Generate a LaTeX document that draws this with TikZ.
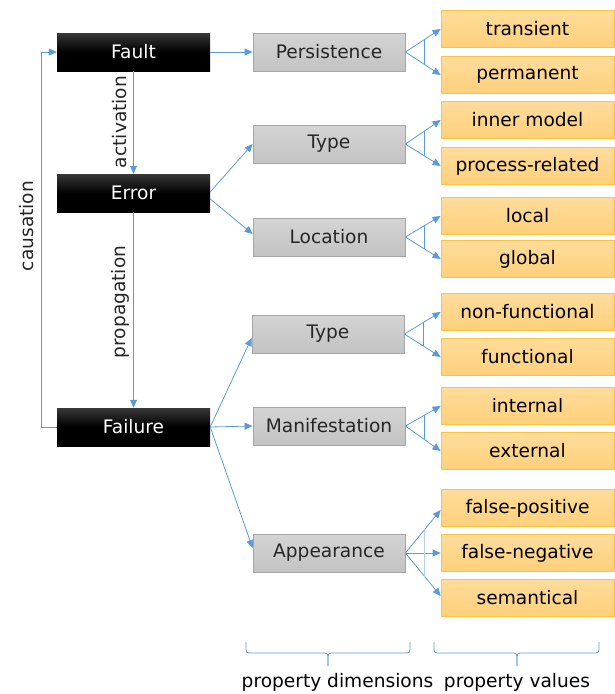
\documentclass[tikz,border=0pt]{standalone}
\usepackage{fontspec}
\setmainfont{DejaVu Sans}
\usetikzlibrary{arrows.meta,calc}

\definecolor{linkblue}{HTML}{5B9BD5}
\definecolor{grayfillA}{HTML}{D4D4D4}
\definecolor{grayfillB}{HTML}{C3C3C3}
\definecolor{grayline}{HTML}{A6A6A6}
\definecolor{orangeA}{HTML}{FFDC9C}
\definecolor{orangeB}{HTML}{FED07A}
\definecolor{orangeline}{HTML}{FCC43C}
\definecolor{darktext}{HTML}{262626}

\tikzset{
  every node/.style={font=\fontsize{18.6}{21}\selectfont, inner sep=0pt},
  chainbox/.style={minimum width=153pt, minimum height=38pt,
    top color=black!78, bottom color=black, middle color=black, text=white},
  dimbox/.style={minimum width=152pt, minimum height=38pt,
    top color=grayfillA, bottom color=grayfillB, draw=grayline, line width=0.8pt,
    text=darktext},
  valbox/.style={minimum width=173pt, minimum height=37pt,
    top color=orangeA, bottom color=orangeB, draw=orangeline, line width=0.8pt,
    text=black},
  conn/.style={draw=linkblue, line width=0.8pt,
    -{Triangle[length=8pt,width=7pt]}},
  splitbar/.style={draw=linkblue, line width=0.8pt},
  bracebar/.style={draw=linkblue, line width=0.8pt, rounded corners=3pt},
  vlabel/.style={rotate=90, text=darktext},
}

\begin{document}
\begin{tikzpicture}[x=1pt, y=-1pt]
\useasboundingbox (0,0) rectangle (615,694);

% fault - error - failure chain
\node[chainbox] (fault)   at (133.5,52)  {Fault};
\node[chainbox] (error)   at (133.5,193) {Error};
\node[chainbox] (failure) at (133.5,427) {Failure};

% property dimensions
\node[dimbox] (persist) at (329,52)  {Persistence};
\node[dimbox] (etype)   at (329,144) {Type};
\node[dimbox] (eloc)    at (329,237) {Location};
\node[dimbox] (ftype)   at (328,334) {Type};
\node[dimbox] (fmanif)  at (329,426) {Manifestation};
\node[dimbox] (fappear) at (329,553) {Appearance};

% property values
\node[valbox] (transient) at (527.5,29)  {transient};
\node[valbox] (permanent) at (527.5,75)  {permanent};
\node[valbox] (inner)     at (527.5,120) {inner model};
\node[valbox] (process)   at (527.5,166) {process-related};
\node[valbox] (local)     at (527.5,216) {local};
\node[valbox] (global)    at (527.5,259) {global};
\node[valbox] (nonfunc)   at (527.5,312) {non-functional};
\node[valbox] (func)      at (527.5,357) {functional};
\node[valbox] (internal)  at (527.5,406) {internal};
\node[valbox] (external)  at (527.5,451) {external};
\node[valbox] (falsepos)  at (527.5,508) {false-positive};
\node[valbox] (falseneg)  at (527.5,553) {false-negative};
\node[valbox] (semantic)  at (527.5,598) {semantical};

% chain arrows and their labels
\draw[conn] (fault.south) -- (error.north);
\draw[conn] (error.south) -- (failure.north);
\draw[conn] (failure.west) -- ++(-15,0) |- (fault.west);
\node[vlabel] (lblact)   at (120,122) {activation};
\node[vlabel] (lblprop)  at (120,302) {propagation};
\node[vlabel] (lblcause) at (27,226)  {causation};

% chain elements to their dimensions
\draw[conn] (fault.east) -- (persist.west);
\draw[conn] ([yshift=1pt]error.east) -- ([yshift=0pt]etype.west);
\draw[conn] ([yshift=-6pt]error.east) -- ([yshift=3pt]eloc.west);
\draw[conn] (failure.east) -- ([yshift=-4pt]ftype.west);
\draw[conn] (failure.east) -- (fmanif.west);
\draw[conn] (failure.east) -- ([yshift=5pt]fappear.west);

% dimensions to their values, each fan joined by a bar
\foreach \dim/\va/\vb in {persist/transient/permanent, etype/inner/process,
    eloc/local/global, ftype/nonfunc/func, fmanif/internal/external} {
  \draw[conn] (\dim.east) -- (\va.west);
  \draw[conn] (\dim.east) -- (\vb.west);
  \draw[splitbar] ($(\dim.east)!0.53!(\va.west)$) -- ($(\dim.east)!0.53!(\vb.west)$);
}
\draw[conn] (fappear.east) -- ([yshift=-2pt]falsepos.west);
\draw[conn] (fappear.east) -- (falseneg.west);
\draw[conn] (fappear.east) -- ([yshift=2pt]semantic.west);
\draw[splitbar, draw=linkblue!45] ($(fappear.east)!0.55!([yshift=-2pt]falsepos.west)$)
  -- ($(fappear.east)!0.55!([yshift=2pt]semantic.west)$);

% braces under the two columns
\coordinate (dimL) at (246,642);
\coordinate (dimR) at (410,642);
\coordinate (dimTip) at (328,666);
\coordinate (valL) at (434,642);
\coordinate (valR) at (599,642);
\coordinate (valTip) at (517,666);
\draw[bracebar] (dimL) -- (dimL |- 0,653) -- (dimTip |- 0,653) -- (dimTip);
\draw[bracebar] (dimR) -- (dimR |- 0,653) -- (dimTip |- 0,653) -- (dimTip);
\draw[bracebar] (valL) -- (valL |- 0,653) -- (valTip |- 0,653) -- (valTip);
\draw[bracebar] (valR) -- (valR |- 0,653) -- (valTip |- 0,653) -- (valTip);
\node[text=black] (dimlabel) at (337.5,682) {property dimensions};
\node[text=black] (vallabel) at (517,682) {property values};
\end{tikzpicture}
\end{document}
